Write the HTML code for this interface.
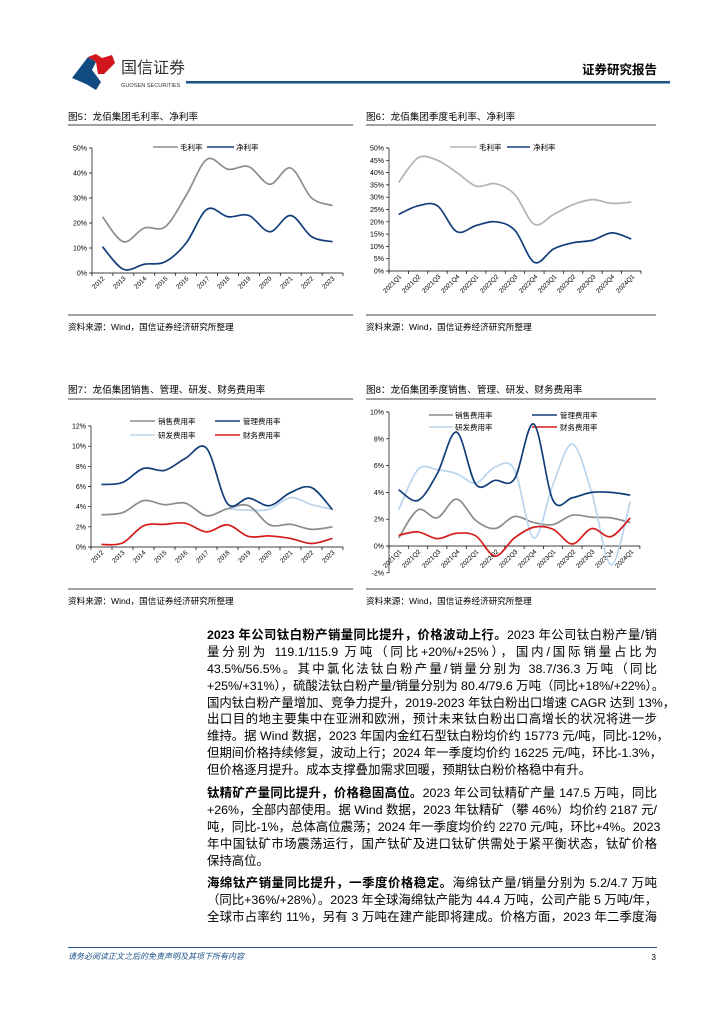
<!DOCTYPE html>
<html><head><meta charset="utf-8">
<style>
body{margin:0;background:#fff;}
#pg{position:relative;width:724px;height:1024px;overflow:hidden;font-family:"Liberation Sans","Noto Sans CJK SC",sans-serif;color:#000;}
.t{position:absolute;white-space:nowrap;}
.body{position:absolute;left:207px;width:450px;font-size:12.4px;line-height:16.9px;font-family:"Liberation Sans","Noto Sans CJK SC",sans-serif;}
.body div{white-space:nowrap;text-align:justify;text-align-last:justify;height:16.9px;}
.body div.l{text-align-last:left;}
b{font-weight:bold;}
</style></head><body><div id="pg">
<svg id="sv" width="724" height="1024" style="position:absolute;left:0;top:0" font-family="Liberation Sans, Noto Sans CJK SC, sans-serif">
<!-- logo -->
<polygon points="72,78 88,57 96,62 92,70 101,82 96,90 86,84" fill="#124a82"/>
<polygon points="88,57 96,54 102,58 112,55 115,63 104,74 98,74 96,62" fill="#d2141c"/>
<text x="121" y="73" font-size="16" fill="#333">国信证券</text>
<text x="121" y="87" font-size="5.6" fill="#333">GUOSEN SECURITIES</text>
<rect x="186" y="81" width="484" height="2.5" fill="#1d5289"/>
<text x="657" y="74" font-size="12.5" font-weight="bold" text-anchor="end">证券研究报告</text>

<!-- titles -->
<g font-size="9.6" fill="#000">
<text x="68" y="120">图5：龙佰集团毛利率、净利率</text>
<text x="366" y="120">图6：龙佰集团季度毛利率、净利率</text>
<text x="68" y="393">图7：龙佰集团销售、管理、研发、财务费用率</text>
<text x="366" y="393">图8：龙佰集团季度销售、管理、研发、财务费用率</text>
<text x="68" y="330" font-size="8.6">资料来源：Wind，国信证券经济研究所整理</text>
<text x="366" y="330" font-size="8.6">资料来源：Wind，国信证券经济研究所整理</text>
<text x="68" y="604" font-size="8.6">资料来源：Wind，国信证券经济研究所整理</text>
<text x="366" y="604" font-size="8.6">资料来源：Wind，国信证券经济研究所整理</text>
</g>
<g stroke="#000" stroke-width="0.8">
<line x1="68" y1="125" x2="353" y2="125"/><line x1="366" y1="125" x2="656" y2="125"/>
<line x1="68" y1="315" x2="353" y2="315"/><line x1="366" y1="315" x2="656" y2="315"/>
<line x1="68" y1="399" x2="353" y2="399"/><line x1="366" y1="399" x2="656" y2="399"/>
<line x1="68" y1="589" x2="353" y2="589"/><line x1="366" y1="589" x2="656" y2="589"/>
</g>

<!-- chart1 axes -->
<g stroke="#000" stroke-width="0.7" fill="none">
<path d="M92,148V273H343"/>
<path d="M89,148H92M89,173H92M89,198H92M89,223H92M89,248H92M89,273H92"/>
<path d="M389,148V271H641"/>
<path d="M386,148H389M386,160.3H389M386,172.6H389M386,184.9H389M386,197.2H389M386,209.5H389M386,221.8H389M386,234.1H389M386,246.4H389M386,258.7H389M386,271H389"/>
<path d="M91,426V547H343"/>
<path d="M88,426H91M88,446.2H91M88,466.3H91M88,486.5H91M88,506.7H91M88,526.8H91M88,547H91"/>
<path d="M389,412V573M389,546H640"/>
<path d="M386,412H389M386,438.8H389M386,465.6H389M386,492.4H389M386,519.2H389M386,546H389M386,572.8H389"/>
</g>
<g id="ticks" stroke="#000" stroke-width="0.7"></g>

<g font-size="7" text-anchor="end" fill="#000">
<text x="87" y="150.5">50%</text><text x="87" y="175.5">40%</text><text x="87" y="200.5">30%</text><text x="87" y="225.5">20%</text><text x="87" y="250.5">10%</text><text x="87" y="275.5">0%</text>
<text x="384" y="150.5">50%</text><text x="384" y="162.8">45%</text><text x="384" y="175.1">40%</text><text x="384" y="187.4">35%</text><text x="384" y="199.7">30%</text><text x="384" y="212">25%</text><text x="384" y="224.3">20%</text><text x="384" y="236.6">15%</text><text x="384" y="248.9">10%</text><text x="384" y="261.2">5%</text><text x="384" y="273.5">0%</text>
<text x="86" y="428.5">12%</text><text x="86" y="448.7">10%</text><text x="86" y="468.8">8%</text><text x="86" y="489">6%</text><text x="86" y="509.2">4%</text><text x="86" y="529.3">2%</text><text x="86" y="549.5">0%</text>
<text x="384" y="414.5">10%</text><text x="384" y="441.3">8%</text><text x="384" y="468.1">6%</text><text x="384" y="494.9">4%</text><text x="384" y="521.7">2%</text><text x="384" y="548.5">0%</text><text x="384" y="575.3">-2%</text>
</g>

<g font-size="6.5" text-anchor="end" fill="#000">
<text transform="translate(105,279) rotate(-45)">2012</text><text transform="translate(126,279) rotate(-45)">2013</text><text transform="translate(147,279) rotate(-45)">2014</text><text transform="translate(168,279) rotate(-45)">2015</text><text transform="translate(189,279) rotate(-45)">2016</text><text transform="translate(210,279) rotate(-45)">2017</text><text transform="translate(230,279) rotate(-45)">2018</text><text transform="translate(251,279) rotate(-45)">2019</text><text transform="translate(272,279) rotate(-45)">2020</text><text transform="translate(293,279) rotate(-45)">2021</text><text transform="translate(314,279) rotate(-45)">2022</text><text transform="translate(335,279) rotate(-45)">2023</text>
<text transform="translate(402,277) rotate(-45)">2021Q1</text><text transform="translate(421,277) rotate(-45)">2021Q2</text><text transform="translate(441,277) rotate(-45)">2021Q3</text><text transform="translate(460,277) rotate(-45)">2021Q4</text><text transform="translate(479,277) rotate(-45)">2022Q1</text><text transform="translate(499,277) rotate(-45)">2022Q2</text><text transform="translate(518,277) rotate(-45)">2022Q3</text><text transform="translate(538,277) rotate(-45)">2022Q4</text><text transform="translate(557,277) rotate(-45)">2023Q1</text><text transform="translate(576,277) rotate(-45)">2023Q2</text><text transform="translate(596,277) rotate(-45)">2023Q3</text><text transform="translate(615,277) rotate(-45)">2023Q4</text><text transform="translate(635,277) rotate(-45)">2024Q1</text>
<text transform="translate(104,553) rotate(-45)">2012</text><text transform="translate(125,553) rotate(-45)">2013</text><text transform="translate(146,553) rotate(-45)">2014</text><text transform="translate(167,553) rotate(-45)">2015</text><text transform="translate(188,553) rotate(-45)">2016</text><text transform="translate(209,553) rotate(-45)">2017</text><text transform="translate(230,553) rotate(-45)">2018</text><text transform="translate(251,553) rotate(-45)">2019</text><text transform="translate(272,553) rotate(-45)">2020</text><text transform="translate(293,553) rotate(-45)">2021</text><text transform="translate(314,553) rotate(-45)">2022</text><text transform="translate(335,553) rotate(-45)">2023</text>
<text transform="translate(402,552) rotate(-45)">2021Q1</text><text transform="translate(421,552) rotate(-45)">2021Q2</text><text transform="translate(441,552) rotate(-45)">2021Q3</text><text transform="translate(460,552) rotate(-45)">2021Q4</text><text transform="translate(479,552) rotate(-45)">2022Q1</text><text transform="translate(499,552) rotate(-45)">2022Q2</text><text transform="translate(518,552) rotate(-45)">2022Q3</text><text transform="translate(537,552) rotate(-45)">2022Q4</text><text transform="translate(556,552) rotate(-45)">2023Q1</text><text transform="translate(576,552) rotate(-45)">2023Q2</text><text transform="translate(595,552) rotate(-45)">2023Q3</text><text transform="translate(614,552) rotate(-45)">2023Q4</text><text transform="translate(634,552) rotate(-45)">2024Q1</text>
</g>

<!-- legends -->
<g stroke-width="1.6">
<line x1="153" y1="147" x2="178" y2="147" stroke="#8c8c8c"/><line x1="207" y1="147" x2="234" y2="147" stroke="#123f7a"/>
<line x1="450" y1="147" x2="477" y2="147" stroke="#b3b3b3"/><line x1="507" y1="147" x2="530" y2="147" stroke="#123f7a"/>
<line x1="130" y1="421" x2="155" y2="421" stroke="#8c8c8c"/><line x1="215" y1="421" x2="240" y2="421" stroke="#123f7a"/>
<line x1="130" y1="435" x2="155" y2="435" stroke="#b9d5ee"/><line x1="215" y1="435" x2="240" y2="435" stroke="#d51c1c"/>
<line x1="429" y1="415" x2="453" y2="415" stroke="#8c8c8c"/><line x1="532" y1="415" x2="557" y2="415" stroke="#123f7a"/>
<line x1="429" y1="427" x2="453" y2="427" stroke="#b9d5ee"/><line x1="532" y1="427" x2="557" y2="427" stroke="#d51c1c"/>
</g>
<g font-size="7.5" fill="#000">
<text x="180" y="150">毛利率</text><text x="236" y="150">净利率</text>
<text x="479" y="150">毛利率</text><text x="533" y="150">净利率</text>
<text x="158" y="424">销售费用率</text><text x="243" y="424">管理费用率</text>
<text x="158" y="438">研发费用率</text><text x="243" y="438">财务费用率</text>
<text x="455" y="418">销售费用率</text><text x="560" y="418">管理费用率</text>
<text x="455" y="430">研发费用率</text><text x="560" y="430">财务费用率</text>
</g>
<g id="lines" fill="none" stroke-width="1.7"></g>

<!-- footer -->
<rect x="68" y="947" width="589" height="1" fill="#1d5289"/>
<text x="68" y="959" font-size="8" font-style="italic" fill="#1d5289">请务必阅读正文之后的免责声明及其项下所有内容</text>
<text x="656" y="960" font-size="8" text-anchor="end">3</text>
</svg>

<div class="body" style="top:627px">
<div><b>2023 年公司钛白粉产销量同比提升，价格波动上行。</b>2023 年公司钛白粉产量/销</div>
<div>量分别为 119.1/115.9 万吨（同比+20%/+25%），国内/国际销量占比为</div>
<div>43.5%/56.5%。其中氯化法钛白粉产量/销量分别为 38.7/36.3 万吨（同比</div>
<div>+25%/+31%），硫酸法钛白粉产量/销量分别为 80.4/79.6 万吨（同比+18%/+22%）。</div>
<div>国内钛白粉产量增加、竞争力提升，2019-2023 年钛白粉出口增速 CAGR 达到 13%，</div>
<div>出口目的地主要集中在亚洲和欧洲，预计未来钛白粉出口高增长的状况将进一步</div>
<div>维持。据 Wind 数据，2023 年国内金红石型钛白粉均价约 15773 元/吨，同比-12%，</div>
<div>但期间价格持续修复，波动上行；2024 年一季度均价约 16225 元/吨，环比-1.3%，</div>
<div class="l">但价格逐月提升。成本支撑叠加需求回暖，预期钛白粉价格稳中有升。</div>
</div>
<div class="body" style="top:785px">
<div><b>钛精矿产量同比提升，价格稳固高位。</b>2023 年公司钛精矿产量 147.5 万吨，同比</div>
<div>+26%，全部内部使用。据 Wind 数据，2023 年钛精矿（攀 46%）均价约 2187 元/</div>
<div>吨，同比-1%，总体高位震荡；2024 年一季度均价约 2270 元/吨，环比+4%。2023</div>
<div>年中国钛矿市场震荡运行，国产钛矿及进口钛矿供需处于紧平衡状态，钛矿价格</div>
<div class="l">保持高位。</div>
</div>
<div class="body" style="top:875px">
<div><b>海绵钛产销量同比提升，一季度价格稳定。</b>海绵钛产量/销量分别为 5.2/4.7 万吨</div>
<div>（同比+36%/+28%）。2023 年全球海绵钛产能为 44.4 万吨，公司产能 5 万吨/年，</div>
<div>全球市占率约 11%，另有 3 万吨在建产能即将建成。价格方面，2023 年二季度海</div>
</div>
</div>
<script>
var NS="http://www.w3.org/2000/svg";
function path(d,c){var p=document.createElementNS(NS,"path");p.setAttribute("d",d);p.setAttribute("stroke",c);document.getElementById("lines").appendChild(p);}
function tick(x1,y1,x2,y2){var l=document.createElementNS(NS,"line");l.setAttribute("x1",x1);l.setAttribute("y1",y1);l.setAttribute("x2",x2);l.setAttribute("y2",y2);document.getElementById("ticks").appendChild(l);}
function cr(pts){var d="M"+pts[0][0]+","+pts[0][1];for(var i=0;i<pts.length-1;i++){var p0=pts[i-1]||pts[i],p1=pts[i],p2=pts[i+1],p3=pts[i+2]||p2;var t=0.5/3;
d+=" C"+(p1[0]+(p2[0]-p0[0])*t)+","+(p1[1]+(p2[1]-p0[1])*t)+" "+(p2[0]-(p3[0]-p1[0])*t)+","+(p2[1]-(p3[1]-p1[1])*t)+" "+p2[0]+","+p2[1];}return d;}
function chart(x0,w,y0,k,yAx,series,n){for(var i=0;i<=n;i++)tick(x0+w*i,yAx,x0+w*i,yAx+3);
series.forEach(function(s){var pts=[];s[0].forEach(function(v,i){if(v!==null)pts.push([x0+w*(i+0.5),y0-v*k]);});path(cr(pts),s[1]);});}
var G="#8c8c8c",N="#123f7a",L="#b9d5ee",R="#d51c1c";
chart(92,20.92,273,2.5,273,[[[22.5,12.5,18,18.5,31,45.5,41.5,42.5,35.5,42,30,27],G],[[10.5,1.5,3.5,4.5,12,25.5,22.5,23,16.5,23,14.5,12.5],N]],12);
chart(389,19.38,271,2.46,271,[[[36,46,45,40,34.5,35.5,31,19,23,27,29,27.5,28],"#b3b3b3"],[[23,26.5,26.5,16,18.5,20,16.5,3.5,9,11.5,12.5,15.5,13],N]],13);
chart(91,21,547,10.08,547,[[[null,null,null,null,null,null,3.8,3.65,3.75,4.9,4.2,3.75],L],[[3.2,3.4,4.6,4.2,4.35,3.1,3.8,4.1,2.2,2.25,1.75,2.0],G],[[6.2,6.4,7.8,7.6,8.8,9.8,4.3,4.85,4.1,5.4,5.9,3.7],N],[[0.25,0.4,2.1,2.25,2.35,1.5,2.2,1.05,1.1,0.85,0.35,0.85],R]],12);
chart(389,19.3,546,13.4,546,[[[0.6,2.7,2.1,3.5,1.9,1.3,2.2,1.75,1.6,2.3,2.15,2.1,1.75],G],[[2.7,5.7,5.7,5.4,4.7,5.9,5.7,0.6,4.6,7.6,4.0,-1.4,3.3],L],[[4.2,3.4,5.4,8.5,4.6,4.9,5.0,9.1,3.4,3.6,4.0,4.0,3.8],N],[[0.8,1.05,0.55,0.95,0.75,-0.75,0.6,1.4,1.25,0.15,1.3,0.7,2.1],R]],13);
</script>
</body></html>
